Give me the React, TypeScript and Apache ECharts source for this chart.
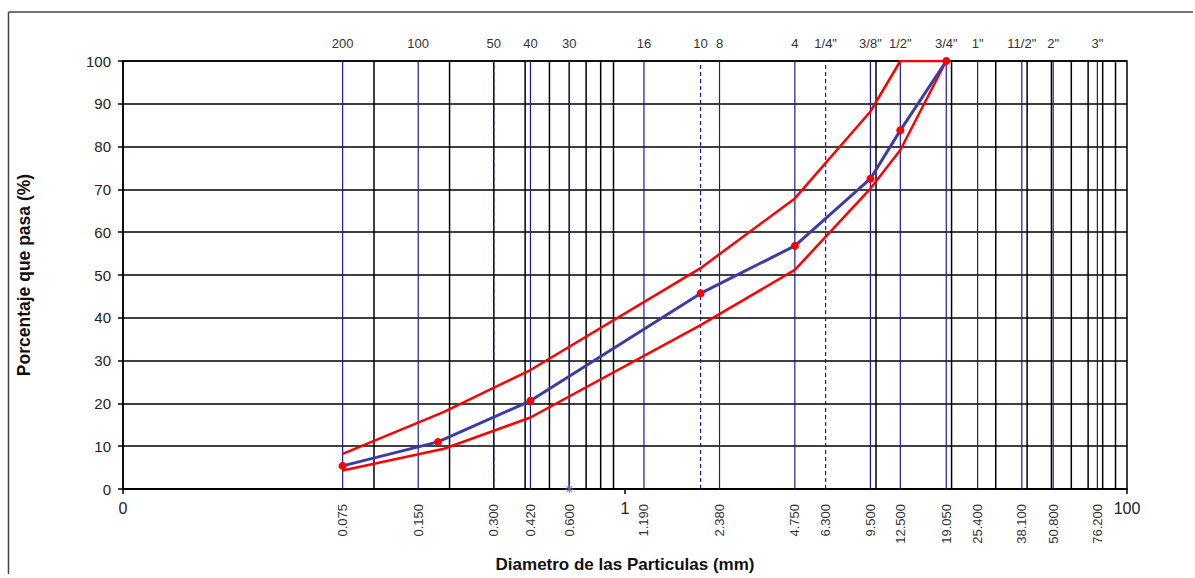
import React, { useEffect, useRef } from "react";
import * as echarts from "echarts";

// Sieve sizes (mm) with their top (sieve number) and bottom (opening) labels
const sieveSizes = [0.075, 0.15, 0.3, 0.42, 0.6, 1.19, 2.0, 2.38, 4.75, 6.3, 9.5, 12.5, 19.05, 25.4, 38.1, 50.8, 76.2];
const sieveTopLabels = ["200", "100", "50", "40", "30", "16", "10", "8", "4", '1/4"', '3/8"', '1/2"', '3/4"', '1"', '11/2"', '2"', '3"'];
const sieveBottomLabels = ["0.075", "0.150", "0.300", "0.420", "0.600", "1.190", "", "2.380", "4.750", "6.300", "9.500", "12.500", "19.050", "25.400", "38.100", "50.800", "76.200"];
const sieveDashed = [false, false, true, false, false, false, true, false, false, true, false, false, false, false, false, false, false];

// Black vertical grid lines (mm)
const minorGridValues = [0.1, 0.2, 0.3, 0.4, 0.5, 0.6, 0.7, 0.8, 0.9, 10, 20, 30, 40, 50, 60, 70, 80, 90];

// Gradation curve (blue) and specification limits (red)
const gradSizes = [0.075, 0.18, 0.42, 2.0, 4.75, 9.5, 12.5, 19.05];
const gradPass = [5.4, 11, 20.6, 45.7, 56.8, 72.5, 83.8, 100];
const limitSizes = [0.075, 0.19, 0.42, 2.0, 4.75, 9.5, 12.5, 19.05];
const upperPass = [8.2, 18, 27.8, 51.6, 67.9, 88.2, 100, 100];
const lowerPass = [4.3, 9.4, 16.7, 38.3, 51.2, 70.2, 79.2, 100];

// Extra marker on the axis
const axisMarkSize = [0.6];
const axisMarkPass = [0];

const FONT = "Arial, 'Liberation Sans', sans-serif";

export default function App() {
  const ref = useRef<HTMLDivElement>(null);

  useEffect(() => {
    document.body.style.margin = "0";
    document.body.style.overflow = "hidden";
    if (!ref.current) return;
    const chart = echarts.init(ref.current, undefined, { renderer: "svg" });

    const option: any = {
      animation: false,
      backgroundColor: "#ffffff",
      textStyle: { fontFamily: FONT },
      grid: {
        left: 123,
        right: 68,
        top: 61,
        bottom: 89,
        show: true,
        borderColor: "#000",
        borderWidth: 1.5,
        backgroundColor: "transparent",
      },
      graphic: [
        {
          type: "line",
          shape: { x1: 8.5, y1: 12, x2: 1193, y2: 12 },
          style: { stroke: "#444", lineWidth: 1.5 },
          silent: true,
        },
        {
          type: "line",
          shape: { x1: 8.5, y1: 12, x2: 8.5, y2: 574 },
          style: { stroke: "#444", lineWidth: 1.5 },
          silent: true,
        },
      ],
      xAxis: {
        type: "log",
        logBase: 10,
        min: 0.01,
        max: 100,
        interval: 2,
        name: "Diametro de las Particulas (mm)",
        nameLocation: "middle",
        nameGap: 66,
        nameTextStyle: { fontFamily: FONT, fontSize: 17, lineHeight: 18, fontWeight: "bold", color: "#111" },
        axisLine: { show: true, lineStyle: { color: "#000", width: 1.5 } },
        axisTick: { show: true, inside: false, length: 5, lineStyle: { color: "#000", width: 1.5 } },
        axisLabel: {
          fontFamily: FONT,
          fontSize: 16,
          color: "#222",
          margin: 11,
          formatter: (v: number) => (v < 0.1 ? "0" : String(Math.round(v))),
        },
        splitLine: { show: false },
        minorTick: { show: false },
      },
      yAxis: {
        type: "value",
        min: 0,
        max: 100,
        interval: 10,
        name: "Porcentaje que pasa (%)",
        nameLocation: "middle",
        nameGap: 90,
        nameTextStyle: { fontFamily: FONT, fontSize: 17.5, fontWeight: "bold", color: "#111" },
        axisLine: { show: true, lineStyle: { color: "#000", width: 1.5 } },
        axisTick: { show: true, inside: false, length: 5, lineStyle: { color: "#000", width: 1.5 } },
        axisLabel: { fontFamily: FONT, fontSize: 15, color: "#222", margin: 12 },
        splitLine: { show: true, lineStyle: { color: "#000", width: 1.5 } },
      },
      series: [
        {
          type: "custom",
          name: "grid",
          silent: true,
          clip: false,
          z: 1,
          encode: { x: 0, y: 1 },
          data: minorGridValues.map((v) => [v, 0]),
          renderItem: (params: any, api: any) => {
            const x = api.value(0);
            const p0 = api.coord([x, 0]);
            const p1 = api.coord([x, 100]);
            return {
              type: "line",
              shape: { x1: p0[0], y1: p0[1], x2: p1[0], y2: p1[1] },
              style: { stroke: "#000", lineWidth: 1.5 },
            };
          },
        },
        {
          type: "custom",
          name: "sieves",
          silent: true,
          clip: false,
          z: 2,
          encode: { x: 0, y: 1 },
          data: sieveSizes.map((v, i) => [v, i]),
          renderItem: (params: any, api: any) => {
            const x = api.value(0);
            const i = api.value(1);
            const p0 = api.coord([x, 0]);
            const p1 = api.coord([x, 100]);
            return {
              type: "group",
              children: [
                {
                  type: "line",
                  shape: { x1: p0[0], y1: p0[1], x2: p1[0], y2: p1[1] },
                  style: {
                    stroke: "#1a1a9c",
                    lineWidth: 1.2,
                    lineDash: sieveDashed[i] ? [4, 3] : null,
                  },
                },
                {
                  type: "text",
                  x: p1[0],
                  y: p1[1] - 18,
                  style: {
                    text: sieveTopLabels[i],
                    fontFamily: FONT,
                    fontSize: 13,
                    fill: "#333",
                    textAlign: "center",
                    textVerticalAlign: "middle",
                  },
                },
                {
                  type: "text",
                  x: p0[0],
                  y: p0[1] + 15,
                  rotation: Math.PI / 2,
                  style: {
                    text: sieveBottomLabels[i],
                    fontFamily: FONT,
                    fontSize: 13,
                    fill: "#333",
                    textAlign: "right",
                    textVerticalAlign: "middle",
                  },
                },
              ],
            };
          },
        },
        {
          type: "line",
          name: "Límite superior",
          data: limitSizes.map((s, i) => [s, upperPass[i]]),
          showSymbol: false,
          symbol: "none",
          lineStyle: { color: "#ff0000", width: 2.5 },
          z: 5,
        },
        {
          type: "line",
          name: "Límite inferior",
          data: limitSizes.map((s, i) => [s, lowerPass[i]]),
          showSymbol: false,
          symbol: "none",
          lineStyle: { color: "#ff0000", width: 2.5 },
          z: 5,
        },
        {
          type: "line",
          name: "Granulometría",
          data: gradSizes.map((s, i) => [s, gradPass[i]]),
          symbol: "circle",
          symbolSize: 8,
          showSymbol: true,
          itemStyle: { color: "#ff0000" },
          lineStyle: { color: "#3c3ca6", width: 3 },
          z: 6,
        },
        {
          type: "scatter",
          name: "marca",
          data: axisMarkSize.map((s, i) => [s, axisMarkPass[i]]),
          symbol: "path://M5,0L5,10M0,5L10,5M1.5,1.5L8.5,8.5M8.5,1.5L1.5,8.5",
          symbolSize: 8,
          itemStyle: { color: "none", borderColor: "#6a6ab8", borderWidth: 1.2 },
          clip: false,
          z: 7,
        },
      ],
    };

    chart.setOption(option);
    return () => chart.dispose();
  }, []);

  return <div ref={ref} style={{ width: 1195, height: 578 }} />;
}
